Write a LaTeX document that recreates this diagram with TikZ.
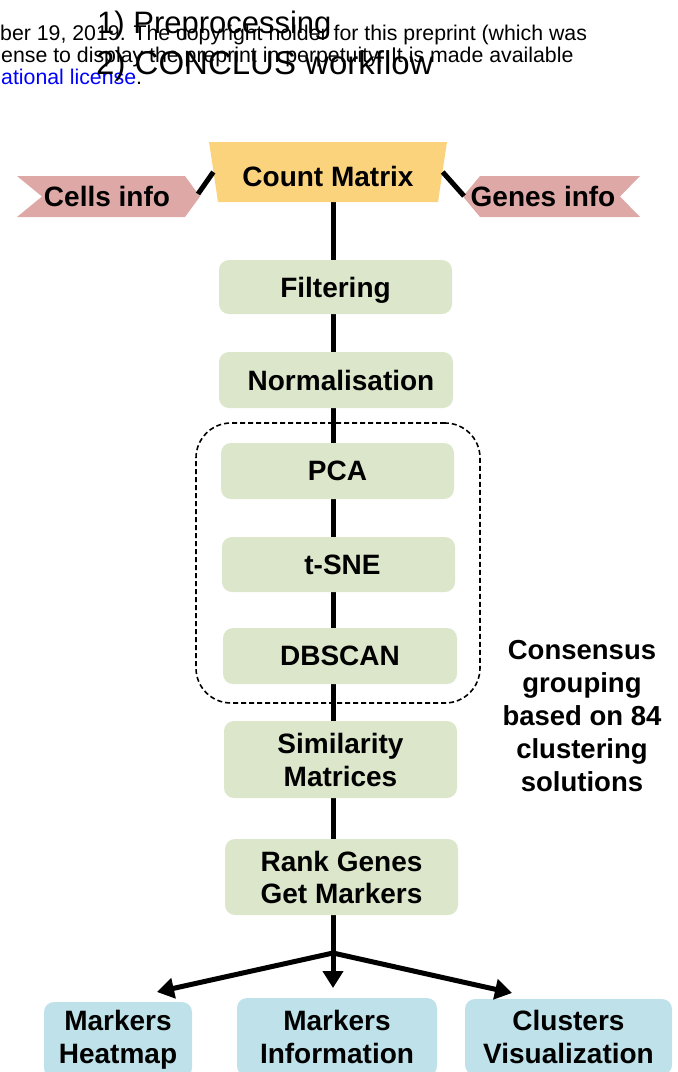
\documentclass[tikz,border=0pt]{standalone}
\usepackage{fontspec}
\setmainfont{Liberation Sans}
\usetikzlibrary{arrows.meta,shapes.geometric,calc}
\pgfdeclarelayer{bg}
\pgfsetlayers{bg,main}
\definecolor{cmyel}{RGB}{252,211,125}
\definecolor{ribpink}{RGB}{222,168,166}
\definecolor{boxgreen}{RGB}{220,230,202}
\definecolor{boxblue}{RGB}{190,225,234}
\definecolor{linkblue}{RGB}{0,0,255}
\begin{document}
\begin{tikzpicture}[x=1pt,y=-1pt,
  lbl/.style={font=\fontsize{28}{33}\selectfont\bfseries, inner sep=0pt, align=center},
  oneline/.style={text depth=0pt},
  gbox/.style={lbl, fill=boxgreen, rounded corners=10pt, minimum width=233pt, minimum height=56pt},
  bbox/.style={lbl, fill=boxblue, rounded corners=10pt, minimum height=76pt},
  flow/.style={line width=5pt, draw=black},
  arrowline/.style={flow, -{Triangle[length=17pt,width=20pt]}},
  smalltxt/.style={font=\fontsize{21.3}{24}\selectfont, inner sep=0pt, anchor=base west},
  bigtxt/.style={inner sep=0pt, anchor=base west}]
\useasboundingbox (0,0) rectangle (678,1072);
\clip (0,0) rectangle (678,1072);

% header texts
\node[smalltxt] (l1) at (0,40) {ber 19, 2019. The copyright holder for this preprint (which was};
\node[smalltxt] (l2) at (1,62) {ense to display the preprint in perpetuity. It is made available};
\node[smalltxt] (l3) at (1,84) {\textcolor{linkblue}{ational license}.};
\node[bigtxt, font=\fontsize{31}{36}\selectfont] (t1) at (97,33) {1) Preprocessing};
\node[bigtxt, font=\fontsize{33}{38}\selectfont] (t2) at (96,74) {2) CONCLUS workflow};

% count matrix and info ribbons
\node[trapezium, trapezium angle=76, trapezium stretches=true, shape border rotate=180,
      minimum width=238pt, minimum height=60pt, fill=cmyel, lbl, oneline, text height=28pt] (cm) at (328,172) {Count Matrix};
\fill[ribpink] (17,176) -- (185,176) -- (200,196.5) -- (185,217) -- (17,217) -- (42,196.5) -- cycle;
\fill[ribpink] (480,176) -- (640,176) -- (620,196.5) -- (640,217) -- (480,217) -- (463,196.5) -- cycle;
\node[lbl, oneline] (cells) at (107,196) {Cells info};
\node[lbl, oneline] (genes) at (543,196) {Genes info};
\coordinate (cellstip) at (198,194);
\coordinate (genestip) at (464,196);
\draw[flow] (cellstip) -- (cm.west);
\draw[flow] (cm.east) -- (genestip);

% pipeline boxes
\node[gbox, oneline, minimum height=54pt] (filt) at (335.5,287) {Filtering};
\node[gbox, oneline, minimum width=234pt] (norm) at (336,380) {\hspace*{10pt}Normalisation};
\node[draw, dashed, line width=1.6pt, dash pattern=on 5pt off 3pt, rounded corners=35pt,
      minimum width=284pt, minimum height=280pt, inner sep=0pt] (grp) at (338,563) {};
\node[gbox, oneline] (pca) at (337.5,471) {PCA};
\node[gbox, oneline, minimum height=55pt] (tsne) at (338.5,564.5) {\hspace*{8pt}t-SNE};
\node[gbox, oneline, minimum width=234pt] (dbscan) at (340,656) {DBSCAN};
\node[gbox, minimum height=77pt] (sim) at (340.5,759.5) {Similarity\\Matrices};
\node[gbox, minimum height=76pt, font=\fontsize{28}{32}\selectfont\bfseries] (rank) at (341.5,877) {Rank Genes\\Get Markers};

\node[lbl, font=\fontsize{27.5}{33}\selectfont\bfseries] (cons) at (582,716.5) {Consensus\\grouping\\based on 84\\clustering\\solutions};

% spine
\coordinate (spine) at (333,0);
\coordinate (branch) at (333,953);
\begin{pgfonlayer}{bg}
\draw[flow] (spine |- cm.south) -- (spine |- filt.north);
\draw[flow] (spine |- filt.south) -- (spine |- norm.north);
\draw[flow] (spine |- norm.south) -- (spine |- pca.north);
\draw[flow] (spine |- pca.south) -- (spine |- tsne.north);
\draw[flow] (spine |- tsne.south) -- (spine |- dbscan.north);
\draw[flow] (spine |- dbscan.south) -- (spine |- sim.north);
\draw[flow] (spine |- sim.south) -- (spine |- rank.north);
\draw[flow] (spine |- rank.south) -- (branch);
\end{pgfonlayer}

% outputs
\node[bbox, minimum width=148pt] (heat) at (118,1040) {Markers\\Heatmap};
\node[bbox, minimum width=200pt, minimum height=78pt] (info) at (337,1037) {Markers\\Information};
\node[bbox, minimum width=207pt] (vis) at (568.5,1037) {Clusters\\Visualization};
\coordinate (tipL) at (157,992);
\coordinate (tipM) at (333,988);
\coordinate (tipR) at (512,993);
\draw[arrowline] (branch) -- (tipL);
\draw[arrowline] (branch) -- (tipM);
\draw[arrowline] (branch) -- (tipR);
\end{tikzpicture}
\end{document}
